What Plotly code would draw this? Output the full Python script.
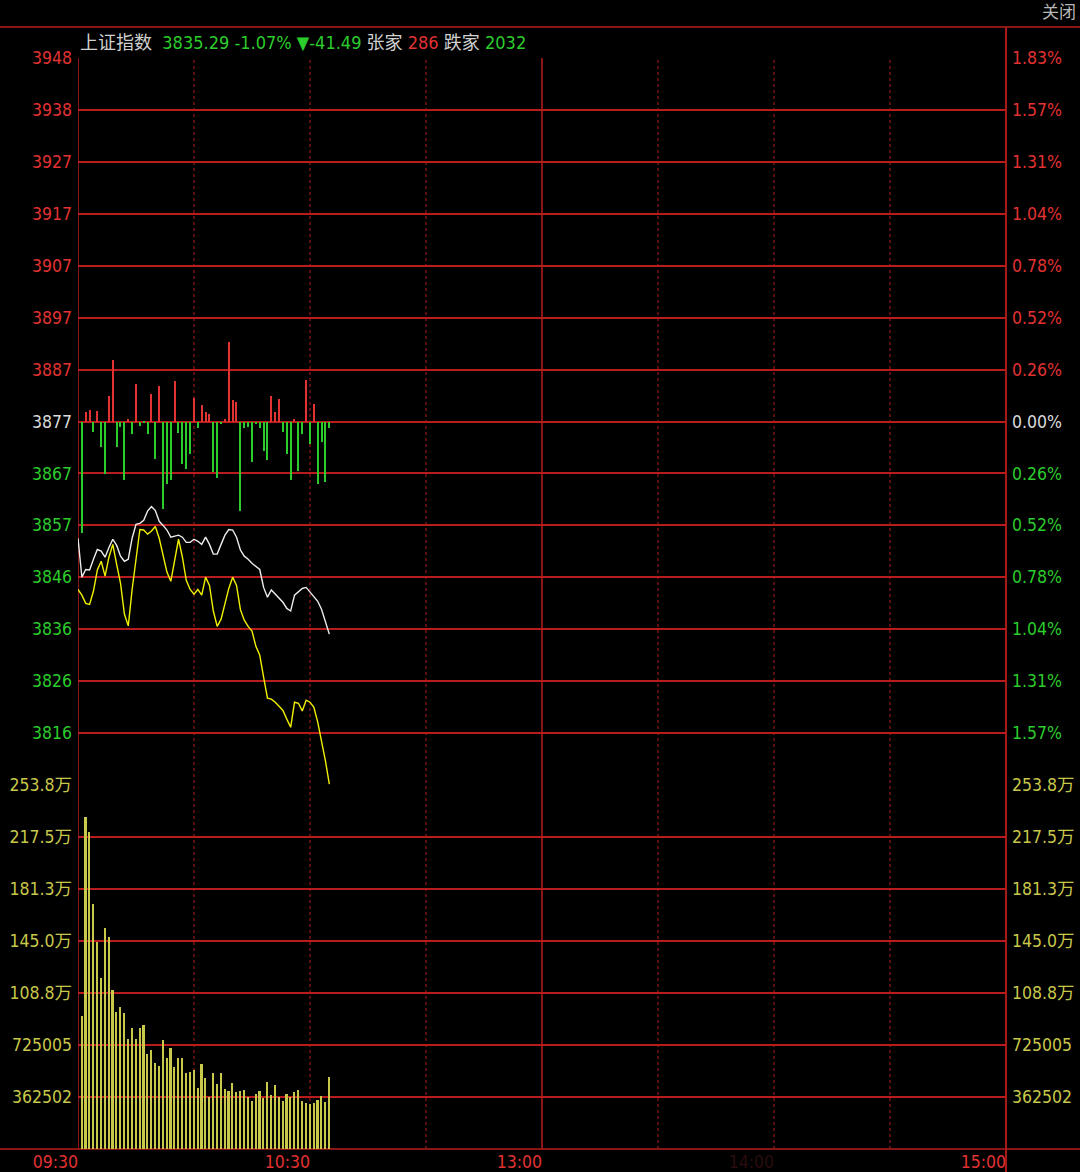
import plotly.graph_objects as go

# ---------------- data ----------------
prev_close = 3876.78
price_step = 10.134
index_name = "上证指数"
last_price = "3835.29"
last_pct = "-1.07%"
last_chg = "▼-41.49"
up_label, up_count = "张家", "286"
down_label, down_count = "跌家", "2032"
close_button = "关闭"

minutes_line = list(range(66))
index_weighted = [
    3854.0, 3846.4, 3847.9, 3847.8, 3849.9, 3851.8, 3851.5, 3850.3, 3852.2, 3853.8,
    3852.6, 3850.5, 3849.5, 3849.9, 3854.0, 3856.7, 3856.9, 3857.5, 3859.3, 3860.2,
    3859.4, 3857.3, 3856.5, 3855.6, 3854.2, 3854.4, 3854.6, 3854.2, 3853.2, 3853.2,
    3853.8, 3853.4, 3852.8, 3854.2, 3852.8, 3850.9, 3850.9, 3852.8, 3854.6, 3855.7,
    3855.6, 3854.2, 3851.7, 3850.5, 3849.9, 3849.1, 3848.5, 3847.9, 3844.4, 3842.5,
    3843.9, 3843.1, 3842.3, 3841.5, 3840.3, 3839.8, 3842.9, 3843.5, 3844.2, 3844.4,
    3843.5, 3842.7, 3841.7, 3840.1, 3837.8, 3835.29,
]
index_equal = [
    3844.0, 3842.9, 3841.3, 3841.1, 3843.7, 3847.8, 3849.5, 3846.6, 3850.3, 3852.8,
    3848.9, 3845.2, 3839.2, 3836.9, 3844.0, 3849.5, 3855.7, 3855.6, 3854.8, 3855.4,
    3856.3, 3854.0, 3850.7, 3847.4, 3845.6, 3849.9, 3853.8, 3850.3, 3845.8, 3844.0,
    3843.1, 3844.0, 3842.9, 3846.4, 3844.8, 3839.8, 3836.8, 3838.2, 3841.1, 3844.2,
    3846.4, 3844.8, 3840.1, 3838.0, 3836.8, 3835.9, 3832.9, 3831.2, 3826.9, 3822.8,
    3822.6, 3822.0, 3821.2, 3820.4, 3818.7, 3817.1, 3822.0, 3821.8, 3820.3, 3822.4,
    3822.0, 3821.0, 3818.1, 3814.6, 3810.5, 3806.0,
]

minutes_bar = list(range(1, 66))
volume = [
    927000, 2312000, 2208000, 1708000, 1445000, 1194000, 1541000, 1478000, 1108000, 955000,
    988000, 946000, 769000, 844000, 769000, 841000, 862000, 662000, 690000, 602000,
    579000, 760000, 634000, 704000, 574000, 637000, 632000, 532000, 537000, 551000,
    425000, 593000, 495000, 365000, 528000, 451000, 532000, 416000, 407000, 462000,
    395000, 407000, 414000, 365000, 332000, 383000, 407000, 356000, 467000, 379000,
    444000, 365000, 332000, 383000, 365000, 397000, 411000, 332000, 323000, 314000,
    319000, 342000, 369000, 326000, 504000,
]
# advance/decline strength bars, in index points above (+) / below (-) previous close
breadth = [
    -21.8, 1.8, 2.3, -2.1, 2.1, -5.0, -10.2, 4.9, 12.0, -5.0,
    -1.1, -11.5, 0.4, -2.5, 7.4, -0.8, -0.3, -2.5, 5.4, -7.3,
    7.0, -17.0, -12.1, -11.5, 8.0, -2.3, -8.2, -9.2, -6.3, 4.6,
    -1.2, 3.3, 1.8, 1.5, -9.9, -11.0, -0.4, 0.4, 15.5, 4.1,
    3.8, -17.4, -1.2, -1.1, -7.9, -0.4, -1.2, -5.7, -7.5, 4.9,
    1.8, 4.3, -2.1, -6.3, -11.5, 0.5, -9.6, -2.4, 8.1, -4.3,
    3.5, -12.1, -4.0, -11.8, -1.2,
]

price_labels_left = ["3948", "3938", "3927", "3917", "3907", "3897", "3887",
                     "3877", "3867", "3857", "3846", "3836", "3826", "3816"]
price_labels_right = ["1.83%", "1.57%", "1.31%", "1.04%", "0.78%", "0.52%", "0.26%",
                      "0.00%", "0.26%", "0.52%", "0.78%", "1.04%", "1.31%", "1.57%"]
price_steps = [7, 6, 5, 4, 3, 2, 1, 0, -1, -2, -3, -4, -5, -6]
vol_step = 362502.4
vol_steps = [1, 2, 3, 4, 5, 6, 7]
vol_labels = ["362502", "725005", "108.8万", "145.0万", "181.3万", "217.5万", "253.8万"]
time_ticks = [0, 60, 120, 180, 240]
time_labels = ["09:30", "10:30", "13:00", "14:00", "15:00"]
dotted_minutes = [30, 60, 90, 150, 180, 210]
solid_minutes = [0, 120]
session_end = 240

# ---------------- styles ----------------
RED = "#e23232"
GREEN = "#2ccc2c"
WHITE = "#dcdcdc"
VOLC = "#c8c84a"
GRID = "#b81c1c"
DOT = "#961818"
FONT = "Liberation Sans Narrow, Arial Narrow, DejaVu Sans Condensed, Noto Sans CJK SC, sans-serif"
LABEL_SIZE = 17.5
W, H = 1080, 1172
ML, MR, MT, MB = 78, 74, 58, 23
PW, PH = W - ML - MR, H - MT - MB
VOL_FRAC = 364 / PH


def colored(text, color):
    return f'<span style="color:{color}">{text}</span>'


def side_color(k):
    return RED if k > 0 else (WHITE if k == 0 else GREEN)


price_tickvals = [prev_close + k * price_step for k in price_steps]
left_text = [colored(t, side_color(k)) for t, k in zip(price_labels_left, price_steps)]
right_text = [colored(t, side_color(k)) for t, k in zip(price_labels_right, price_steps)]
price_range = [prev_close - 7 * price_step, prev_close + 7 * price_step]
vol_tickvals = [k * vol_step for k in vol_steps]
vol_range = [0, 7 * vol_step]
time_text = [colored(t, "#2a0c0c" if t == "14:00" else RED) for t in time_labels]

fig = go.Figure()

# advance/decline bars around previous close
fig.add_trace(go.Bar(
    x=minutes_bar, y=breadth, base=prev_close, width=0.3,
    marker=dict(color=[RED if v > 0 else GREEN for v in breadth], line=dict(width=0)),
    xaxis="x", yaxis="y", hoverinfo="skip", showlegend=False,
))
fig.add_trace(go.Scatter(
    x=minutes_line, y=index_weighted, mode="lines",
    line=dict(color="#ececec", width=1.4), xaxis="x", yaxis="y",
    hoverinfo="skip", showlegend=False,
))
fig.add_trace(go.Scatter(
    x=minutes_line, y=index_equal, mode="lines",
    line=dict(color="#f0f000", width=1.4), xaxis="x", yaxis="y",
    hoverinfo="skip", showlegend=False,
))
fig.add_trace(go.Bar(
    x=minutes_bar, y=volume, width=0.42,
    marker=dict(color=VOLC, line=dict(width=0)),
    xaxis="x", yaxis="y2", hoverinfo="skip", showlegend=False,
))
# anchors for the right-hand label axes
fig.add_trace(go.Scatter(x=[minutes_line[0]], y=[prev_close], mode="markers",
                         marker=dict(opacity=0), yaxis="y3", hoverinfo="skip", showlegend=False))
fig.add_trace(go.Scatter(x=[minutes_line[0]], y=[vol_step], mode="markers",
                         marker=dict(opacity=0), yaxis="y4", hoverinfo="skip", showlegend=False))

axis_font = dict(family=FONT, size=LABEL_SIZE)
common_y = dict(ticks="", zeroline=False, showline=False, automargin=False, ticklabelstandoff=5)
fig.update_layout(
    width=W, height=H,
    margin=dict(l=ML, r=MR, t=MT, b=MB, pad=0, autoexpand=False),
    paper_bgcolor="black", plot_bgcolor="black",
    barmode="overlay", bargap=0,
    xaxis=dict(domain=[0, 1], range=[0, session_end], anchor="y2",
               tickvals=time_ticks, ticktext=time_text, ticks="",
               ticklabelposition="outside left", automargin=False,
               showgrid=False, zeroline=False, showline=False,
               tickfont=dict(axis_font, color=RED)),
    yaxis=dict(domain=[VOL_FRAC, 1], range=price_range, anchor="x",
               tickvals=price_tickvals, ticktext=left_text,
               showgrid=True, gridcolor=GRID, gridwidth=1.5,
               tickfont=axis_font, **common_y),
    yaxis3=dict(overlaying="y", side="right", range=price_range, anchor="x",
                tickvals=price_tickvals, ticktext=right_text,
                showgrid=False, tickfont=axis_font, **common_y),
    yaxis2=dict(domain=[0, VOL_FRAC], range=vol_range, anchor="x",
                tickvals=vol_tickvals, ticktext=vol_labels,
                showgrid=True, gridcolor=GRID, gridwidth=1.5,
                tickfont=dict(axis_font, color=VOLC), **common_y),
    yaxis4=dict(overlaying="y2", side="right", range=vol_range, anchor="x",
                tickvals=vol_tickvals, ticktext=vol_labels,
                showgrid=False, tickfont=dict(axis_font, color=VOLC), **common_y),
)

top_y = 1 + (MT - 27) / PH
bot_y = -MB / PH
left_x = -ML / PW
right_x = (W - ML) / PW
shapes = [
    dict(type="line", xref="paper", yref="paper", x0=left_x, x1=right_x, y0=top_y, y1=top_y,
         line=dict(color=GRID, width=1.5), layer="below"),
    dict(type="line", xref="paper", yref="paper", x0=left_x, x1=right_x, y0=0, y1=0,
         line=dict(color=GRID, width=1.5), layer="below"),
    dict(type="line", xref="paper", yref="paper", x0=1, x1=1, y0=bot_y, y1=top_y,
         line=dict(color=GRID, width=1.8), layer="above"),
]
for m in solid_minutes:
    shapes.append(dict(type="line", xref="x", yref="paper", x0=m, x1=m, y0=0, y1=1,
                       line=dict(color=GRID, width=1.5), layer="below"))
for m in dotted_minutes:
    shapes.append(dict(type="line", xref="x", yref="paper", x0=m, x1=m, y0=0, y1=1,
                       line=dict(color=DOT, width=1.2, dash="dot"), layer="below"))
fig.update_layout(shapes=shapes)

title = (colored(index_name, "#d0d0d0") + "  "
         + colored(f"{last_price} {last_pct} {last_chg}", GREEN) + " "
         + colored(up_label, "#d0d0d0") + " " + colored(up_count, RED) + " "
         + colored(down_label, "#d0d0d0") + " " + colored(down_count, GREEN))
fig.add_annotation(xref="paper", yref="paper", x=0, y=1 + (MT - 42) / PH,
                   xanchor="left", yanchor="middle", showarrow=False, text=title,
                   font=dict(family=FONT, size=18, color="#d0d0d0"))
fig.add_annotation(xref="paper", yref="paper", x=(W - 2 - ML) / PW, y=1 + (MT - 12) / PH,
                   xanchor="right", yanchor="middle", showarrow=False, text=close_button,
                   font=dict(family=FONT, size=17, color="#b8b8b8"))

fig.write_html("out.html")
